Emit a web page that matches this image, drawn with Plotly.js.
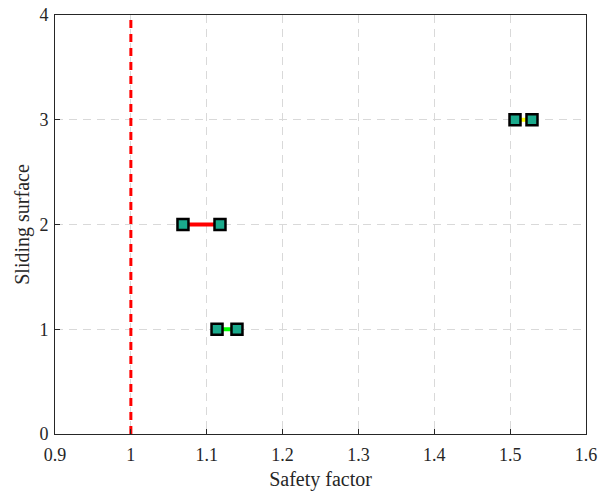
<!DOCTYPE html>
<html>
<head>
<meta charset="utf-8">
<script src="https://cdn.plot.ly/plotly-3.0.1.min.js"></script>
<style>html,body{margin:0;padding:0;background:#fff;}#chart{width:603px;height:498px;}</style>
</head>
<body>
<div id="chart"></div>
<script>
const surfaces = [1, 2, 3];
const sfLow = [1.1136, 1.0687, 1.5064];
const sfHigh = [1.1399, 1.1175, 1.5288];
const rangeColors = ['#00ff00', '#ff0000', '#ffff00'];
const refX = [1, 1];
const refY = [0, 4];
const xTicks = [0.9, 1, 1.1, 1.2, 1.3, 1.4, 1.5, 1.6];
const xTickText = ['0.9', '1', '1.1', '1.2', '1.3', '1.4', '1.5', '1.6'];
const yTicks = [0, 1, 2, 3, 4];

const traces = [];
traces.push({
  x: refX, y: refY, mode: 'lines', type: 'scatter',
  line: {color: '#ff0000', width: 3, dash: '8px,6px'},
  hoverinfo: 'skip', showlegend: false
});
surfaces.forEach((s, i) => {
  traces.push({
    x: [sfLow[i], sfHigh[i]], y: [s, s], type: 'scatter', mode: 'lines+markers',
    line: {color: rangeColors[i], width: 4},
    marker: {symbol: 'square', size: 11, color: '#1aaa8c', line: {color: '#000', width: 2.5}},
    showlegend: false
  });
});

const serif = 'Liberation Serif, Times New Roman, serif';
const axisCommon = {
  showline: true, linecolor: '#262626', linewidth: 1, mirror: true,
  ticks: 'inside', ticklen: 5, tickcolor: '#262626',
  showgrid: true, gridcolor: '#d9d9d9', griddash: '8px,6px', gridwidth: 1,
  zeroline: false,
  tickfont: {family: serif, size: 18, color: '#262626'}
};

const layout = {
  width: 603, height: 498,
  margin: {l: 55, r: 17, t: 15, b: 64},
  paper_bgcolor: '#fff', plot_bgcolor: '#fff',
  xaxis: Object.assign({}, axisCommon, {
    range: [0.9, 1.6], tickvals: xTicks, ticktext: xTickText,
    ticklabelstandoff: 4,
    title: {text: 'Safety factor', font: {family: serif, size: 20, color: '#262626'}, standoff: 8}
  }),
  yaxis: Object.assign({}, axisCommon, {
    range: [0, 4], tickvals: yTicks,
    ticklabelstandoff: 2,
    title: {text: 'Sliding surface', font: {family: serif, size: 20, color: '#262626'}, standoff: 4}
  })
};

Plotly.newPlot('chart', traces, layout, {displayModeBar: false, staticPlot: true});
</script>
</body>
</html>
